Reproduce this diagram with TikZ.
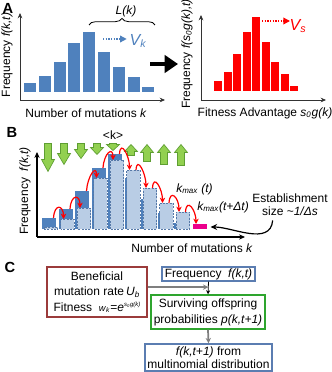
\documentclass[tikz,border=0pt]{standalone}
\usepackage{fontspec}
\setmainfont{Liberation Sans}
\usepackage{xcolor}
\definecolor{colBar}{HTML}{4F81BD}
\definecolor{colBarNew}{HTML}{B9CDE5}
\definecolor{colBarEdge}{HTML}{5679A8}
\colorlet{colFit}{red}
\definecolor{colSel}{HTML}{92D050}
\definecolor{colSelLine}{HTML}{5E9E32}
\colorlet{colEst}{magenta}
\definecolor{colBenLine}{HTML}{9B3B3B}
\definecolor{colFreqLine}{HTML}{5B7DB1}
\definecolor{colSurvLine}{HTML}{2EA52E}
\definecolor{colFlow}{HTML}{7F7F7F}
\usepackage{tikz}
\usetikzlibrary{arrows.meta, calc, decorations.pathreplacing}

\begin{document}
\begin{tikzpicture}[x=0.75pt, y=0.75pt,
    font=\fontsize{9}{10.8}\selectfont,
    panel/.style={font=\fontsize{11}{13}\selectfont\bfseries},
    axisline/.style={-{Stealth[length=4pt,width=3.5pt]}, line width=0.6pt, black!80},
    axisB/.style={-{Stealth[length=4.5pt,width=4pt]}, line width=1.1pt, black},
    drift/.style={-{Triangle[length=5pt,width=5pt]}, line width=1pt, dash pattern=on 1pt off 1pt},
    vel/.style={font=\fontsize{12}{14}\selectfont\itshape, inner sep=0pt},
    bigarrow/.style={-{Triangle[length=10pt,width=13pt]}, line width=3pt},
    newbar/.style={fill=colBarNew, draw=colBarEdge, line width=0.6pt, dash pattern=on 1.5pt off 1pt},
    selarrow/.style={fill=colSel, draw=colSelLine, line width=0.5pt},
    jump/.style={-{Stealth[length=4pt,width=4pt]}, line width=0.9pt, colFit},
    box/.style={draw, line width=1.1pt, align=center, inner sep=1pt},
    flow/.style={-{Stealth[length=4pt,width=4pt]}, line width=1.3pt, colFlow}]
  \useasboundingbox (0,0) rectangle (332,372);

  % A: distribution of mutation numbers
  \node[panel] (labA) at (8,364) {A};
  \draw[axisline] (20,272) -- (20,359);
  \draw[axisline] (20,272) -- (165,272);
  \foreach \h [count=\i] in {8.7,15.7,29.7,48.7,59.7,39.7,24.7,14.7,4.7}
    \fill[colBar] ({24+14.8*(\i-1)},280.3) rectangle ++(12,\h);
  \draw[decorate, decoration={brace, amplitude=5pt}, line width=0.6pt] (89,347) -- (155,347);
  \node (lk) at (126,361) {\itshape L(k)};
  \node[vel, colBar] (vk) at (138,331) {V\textsubscript{k}};
  \coordinate (vk0) at (103,333);
  \draw[drift, colBar] (vk0) -- ([xshift=-2pt]vk.west |- vk0);
  \node[rotate=90] (fk) at (7,317) {Frequency \textit{f(k,t)}};
  \node (nk) at (86,259) {Number of mutations \textit{k}};
  \coordinate (bigL) at (150,308);
  \coordinate (bigR) at (178,308);
  \draw[bigarrow] (bigL) -- (bigR);

  % A: distribution of fitness
  \draw[axisline] (201,272) -- (201,357);
  \draw[axisline] (201,272) -- (326,272);
  \foreach \h [count=\i] in {10,19,37,59,74,49,29,17,5}
    \fill[colFit] ({214+9.5*(\i-1)},281) rectangle ++(8,\h);
  \node[vel, colFit] (vs) at (298,346) {V\textsubscript{s}};
  \coordinate (vs0) at (262,351);
  \draw[drift, colFit] (vs0) -- (290,351);
  \node[rotate=90] (fs) at (187,318) {Frequency \textit{f(s\textsubscript{0}g(k),t)}};
  \node (ns) at (265,259) {Fitness Advantage \textit{s\textsubscript{0}g(k)}};

  % B: one generation step
  \node[panel] (labB) at (12,240) {B};
  \node (kmean) at (113,237) {<k>};
  \foreach \x/\l/\h in {48/28/12, 64/21/11, 81/15/9, 97/11/7, 113/7/6}
    \filldraw[selarrow] ({\x-3.5},228.5) -- ({\x+3.5},228.5) -- ({\x+3.5},{228.5-\l+\h})
      -- ({\x+6.5},{228.5-\l+\h}) -- (\x,{228.5-\l}) -- ({\x-6.5},{228.5-\l+\h})
      -- ({\x-3.5},{228.5-\l+\h}) -- cycle;
  \foreach \x/\l/\h in {131/11/7, 147/17/8, 164/20/8, 181/21/8}
    \filldraw[selarrow] ({\x-3.5},{227.5-\l}) -- ({\x+3.5},{227.5-\l}) -- ({\x+3.5},{227.5-\h})
      -- ({\x+6.5},{227.5-\h}) -- (\x,227.5) -- ({\x-6.5},{227.5-\h})
      -- ({\x-3.5},{227.5-\h}) -- cycle;
  \draw[axisB] (37,135) -- (37,220);
  \draw[axisB] (37,135) -- (245,135);
  \foreach \h [count=\i] in {11.5,20.5,38.5,61.5,75.5,51.5,30.5,16.5,6.5}
    \fill[colBar] ({42+16.5*(\i-1)},142.5) rectangle ++(14,\h);
  \foreach \h [count=\i] in {2.5,10.5,21.5,51.5,69.5,59.5,41.5,26.5,17.5}
    \draw[newbar] ({44+16.5*(\i-1)},142.5) rectangle ++(13.5,\h);
  \fill[colEst] (192.5,142.5) rectangle (206.5,147.5);
  \coordinate (kest) at (206.5,145);
  \foreach \xa/\ya/\xb/\yb in {53.5/154/63.5/153, 70/163/80/164, 86.5/181/96.5/194,
      103/204/113/212, 119.5/218/129.5/202, 136/202/146/184, 152.5/184/162.5/169,
      169/169/179/160, 185.5/160/196/148}
    \draw[jump] (\xa,\ya) .. controls +(1,15) and +(0,14) .. (\xb,\yb);
  \node[anchor=west, inner sep=0pt] (kmax) at (176,183) {\itshape k\textsubscript{max} (t)};
  \node[anchor=west, inner sep=0pt] (kmaxnext) at (197,164.5) {\itshape k\textsubscript{max}(t+Δt)};
  \node[align=center, font=\fontsize{9}{9.5}\selectfont] (estab) at (290,167)
    {Establishment\\size \textasciitilde\textit{1/Δs}};
  \draw[-{Stealth[length=5pt,width=4.5pt]}, line width=0.9pt, shorten >=3pt]
    ([xshift=-13pt]estab.south) to[out=-95, in=0] (kest);
  \node[rotate=90] (fkB) at (25,181) {Frequency\ \ \textit{f(k,t)}};
  \node (nkB) at (192,124) {Number of mutations \textit{k}};

  % C: simulation loop
  \node[panel] (labC) at (10,105) {C};
  \node[box, draw=colBenLine, minimum width=75pt, minimum height=37.5pt,
    font=\fontsize{9}{11.6}\selectfont] (ben) at (97,80)
    {Beneficial\\mutation rate\,\textit{U}\textsubscript{\textit{b}}\\Fitness\ \ {\fontsize{7}{8}\selectfont\textit{w}\textsubscript{\textit{k}}}=\textit{e}{\fontsize{4.5}{5}\selectfont\raisebox{3.5pt}{\textit{s\textsubscript{0}g(k)}}}};
  \node[box, draw=colFreqLine, minimum width=69.75pt, minimum height=10.5pt] (freq) at (208.5,98)
    {Frequency\ \ \textit{f(k,t)}};
  \node[box, draw=colSurvLine, minimum width=85.5pt, minimum height=25.5pt,
    font=\fontsize{9}{12}\selectfont] (surv) at (208,60)
    {Surviving offspring\\probabilities \textit{p(k,t+1)}};
  \node[box, draw=colFreqLine, minimum width=95.25pt, minimum height=20.25pt,
    font=\fontsize{9}{9.5}\selectfont] (res) at (208.5,14.5)
    {\textit{f(k,t+1)} from\\multinomial distribution};
  \coordinate (join) at ($(freq.south)!0.43!(surv.north)$);
  \draw[-{Stealth[length=3pt,width=3pt]}, line width=0.6pt] (freq.south) -- (surv.north);
  \draw[flow] (ben.east |- join) -- (join);
  \draw[flow] (surv.south) -- (res.north);
\end{tikzpicture}
\end{document}
